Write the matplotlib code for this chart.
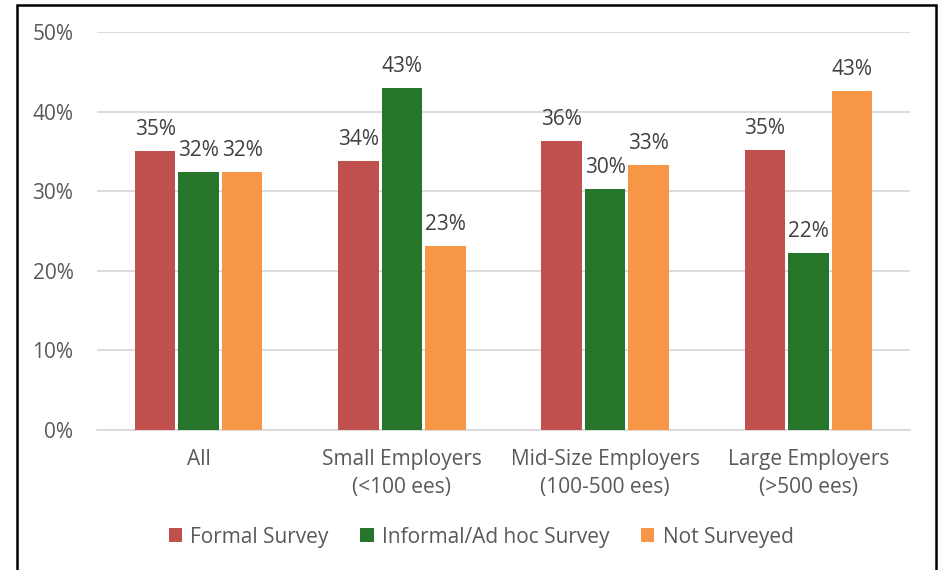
import numpy as np
import matplotlib
matplotlib.use("Agg")
import matplotlib.pyplot as plt
from matplotlib.patches import Rectangle

plt.rcParams['font.family'] = ['Open Sans', 'DejaVu Sans']

# survey share by employer size
categories = ['All', 'Small Employers\n(<100 ees)', 'Mid-Size Employers\n(100-500 ees)',
              'Large Employers\n(>500 ees)']
formal = [35.0, 33.8, 36.3, 35.2]
informal = [32.4, 43.0, 30.3, 22.2]
not_surveyed = [32.4, 23.1, 33.3, 42.6]
series_names = ['Formal Survey', 'Informal/Ad hoc Survey', 'Not Surveyed']
colors = ['#C0504D', '#27752A', '#F79646']

W, H = 942, 570
fig = plt.figure(figsize=(W / 100, H / 100), dpi=100)
ax = fig.add_axes([97 / W, (H - 430) / H, (910 - 97) / W, (430 - 32) / H])

x = np.arange(len(categories))
bw = 0.2
step = 0.214
text_col = '#595959'
fs = 15

for k, (vals, name, c) in enumerate(zip([formal, informal, not_surveyed], series_names, colors)):
    bars = ax.bar(x + (k - 1) * step, vals, width=bw, color=c, label=name, zorder=3)
    for b, v in zip(bars, vals):
        ax.annotate(f'{v:.0f}%', (b.get_x() + b.get_width() / 2, v), xytext=(0, 8),
                    textcoords='offset points', ha='center', va='bottom',
                    fontsize=fs, color='#404040')

ax.set_xlim(-0.5, 3.5)
ax.set_ylim(0, 50)
ax.set_yticks(np.arange(0, 51, 10))
ax.set_yticklabels([f'{t}%' for t in range(0, 51, 10)])
ax.set_xticks(x)
ax.set_xticklabels(categories, linespacing=1.4)
ax.tick_params(axis='y', length=0, pad=17, labelsize=fs, labelcolor=text_col)
ax.tick_params(axis='x', length=0, pad=14, labelsize=fs, labelcolor=text_col)
ax.grid(axis='y', color='#D9D9D9', linewidth=1.3, zorder=0)
for s in ['top', 'right', 'left']:
    ax.spines[s].set_visible(False)
ax.spines['bottom'].set_color('#D9D9D9')
ax.spines['bottom'].set_linewidth(1.3)

fig.legend(loc='center', bbox_to_anchor=(481 / W, 1 - 537 / H), ncol=3, frameon=False,
           handlelength=0.65, handleheight=0.65, handletextpad=0.4, columnspacing=1.5,
           fontsize=fs, labelcolor=text_col)

# outer frame
fig.patches.append(Rectangle((17 / W, -0.02), (936 - 17) / W, 1.02 - 5 / H,
                             transform=fig.transFigure, fill=False, edgecolor='black',
                             linewidth=1.8))

fig.savefig('out.png', dpi=100)
